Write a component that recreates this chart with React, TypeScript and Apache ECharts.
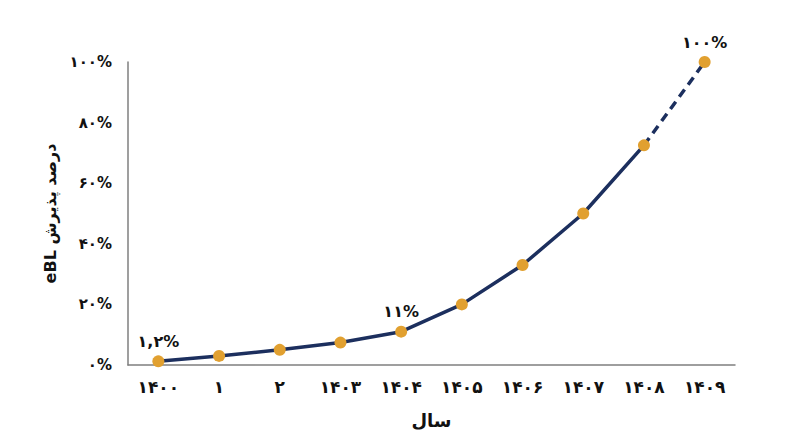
import React, { useEffect, useRef } from "react";
import * as echarts from "echarts";

const years = ["۱۴۰۰", "۱", "۲", "۱۴۰۳", "۱۴۰۴", "۱۴۰۵", "۱۴۰۶", "۱۴۰۷", "۱۴۰۸", "۱۴۰۹"];
const adoption = [1.2, 3, 5, 7.4, 11, 20, 33, 50, 72.5, 100];
const pointLabels = ["۱,۲%", "", "", "", "۱۱%", "", "", "", "", "۱۰۰%"];
const yTickLabels: Record<number, string> = { 0: "۰%", 20: "۲۰%", 40: "۴۰%", 60: "۶۰%", 80: "۸۰%", 100: "۱۰۰%" };
const solidUntil = 8;

const FONT = "DejaVu Sans";

export default function App() {
  const ref = useRef<HTMLDivElement>(null);
  useEffect(() => {
    if (!ref.current) return;
    const chart = echarts.init(ref.current, undefined, { renderer: "svg" });
    const solid = adoption.map((v, i) => (i <= solidUntil ? v : null));
    const dashed = adoption.map((v, i) => (i >= solidUntil ? v : null));
    chart.setOption({
      animation: false,
      grid: { left: 128, right: 65, top: 62, bottom: 82 },
      xAxis: {
        type: "category",
        data: years,
        boundaryGap: true,
        axisLine: { lineStyle: { color: "#7f7f7f", width: 1.5 } },
        axisTick: { show: false },
        axisLabel: { color: "#111", fontFamily: FONT, fontWeight: "bold", fontSize: 17, margin: 13 },
        name: "سال",
        nameLocation: "middle",
        nameGap: 46,
        nameTextStyle: { color: "#111", fontFamily: FONT, fontWeight: "bold", fontSize: 18 },
      },
      yAxis: {
        type: "value",
        min: 0,
        max: 100,
        interval: 20,
        splitLine: { show: false },
        axisLine: { show: true, lineStyle: { color: "#7f7f7f", width: 1.5 } },
        axisTick: { show: false },
        axisLabel: {
          color: "#111",
          fontFamily: FONT,
          fontWeight: "bold",
          fontSize: 15,
          margin: 16,
          formatter: (v: number) => yTickLabels[v] ?? "",
        },
        name: "eBL درصد پذیرش",
        nameLocation: "middle",
        nameRotate: 90,
        nameGap: 53,
        nameTextStyle: { color: "#111", fontFamily: FONT, fontWeight: "bold", fontSize: 16 },
      },
      series: [
        {
          type: "line",
          data: solid,
          showSymbol: false,
          lineStyle: { color: "#1c2f5e", width: 3.5 },
          z: 2,
        },
        {
          type: "line",
          data: dashed,
          showSymbol: false,
          lineStyle: { color: "#1c2f5e", width: 3.5, type: [9, 6] },
          z: 2,
        },
        {
          type: "scatter",
          data: adoption.map((v, i) => ({
            value: v,
            label: {
              show: pointLabels[i] !== "",
              formatter: pointLabels[i],
              position: "top",
              distance: 6,
              color: "#111",
              fontFamily: FONT,
              fontWeight: "bold",
              fontSize: 16,
            },
          })),
          symbolSize: 12,
          itemStyle: { color: "#e1a030", opacity: 1 },
          z: 5,
        },
      ],
    });
    return () => chart.dispose();
  }, []);
  return (
    <div
      ref={ref}
      style={{ position: "absolute", left: 0, top: 0, width: 800, height: 447 }}
    />
  );
}
